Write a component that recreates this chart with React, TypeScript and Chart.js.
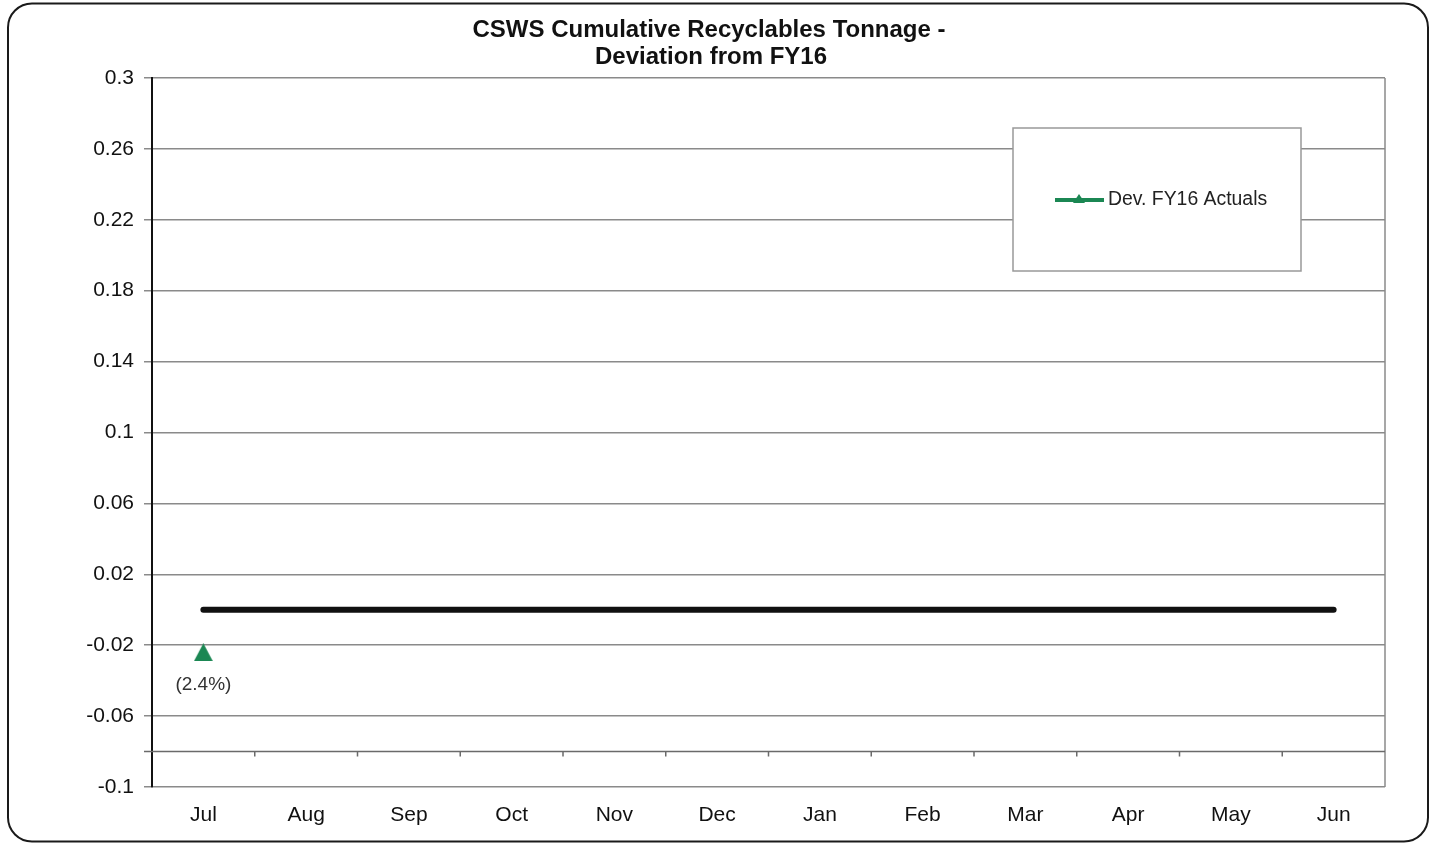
import React, { useEffect, useRef } from 'react';
import { Chart, registerables } from 'chart.js';

Chart.register(...registerables);

const months = ['Jul', 'Aug', 'Sep', 'Oct', 'Nov', 'Dec', 'Jan', 'Feb', 'Mar', 'Apr', 'May', 'Jun'];
const deviationFY16: (number | null)[] = [-0.024, null, null, null, null, null, null, null, null, null, null, null];
const zeroLine = [0, 0, 0, 0, 0, 0, 0, 0, 0, 0, 0, 0];
const pointLabels = ['(2.4%)', '', '', '', '', '', '', '', '', '', '', ''];
const yTickValues = [-0.1, -0.06, -0.02, 0.02, 0.06, 0.1, 0.14, 0.18, 0.22, 0.26, 0.3];
const yTickLabels = ['-0.1', '-0.06', '-0.02', '0.02', '0.06', '0.1', '0.14', '0.18', '0.22', '0.26', '0.3'];
const categoryAxisValue = -0.08;
const titleLines = ['CSWS Cumulative Recyclables Tonnage -', 'Deviation from FY16'];
const legendLabel = 'Dev. FY16 Actuals';

const GREEN = '#1b8753';
const FONT = '"Liberation Sans", Arial, sans-serif';

function makeTriangle(w: number, h: number, color: string) {
  const c = document.createElement('canvas');
  c.width = w;
  c.height = h;
  const g = c.getContext('2d')!;
  g.fillStyle = color;
  g.beginPath();
  g.moveTo(w / 2, 0);
  g.lineTo(w, h);
  g.lineTo(0, h);
  g.closePath();
  g.fill();
  return c;
}

const decorPlugin = {
  id: 'decor',
  beforeDraw(chart: any) {
    const { ctx, width, height } = chart;
    ctx.save();
    ctx.fillStyle = '#ffffff';
    ctx.fillRect(0, 0, width, height);
    ctx.strokeStyle = '#1a1a1a';
    ctx.lineWidth = 2;
    ctx.beginPath();
    ctx.roundRect(8, 3.5, 1420, 838, 24);
    ctx.stroke();
    ctx.restore();
  },
  afterDraw(chart: any) {
    const { ctx, chartArea, scales } = chart;
    const x = scales.x;
    const y = scales.y;
    ctx.save();
    // title
    ctx.fillStyle = '#111';
    ctx.font = `bold 24px ${FONT}`;
    ctx.textAlign = 'center';
    ctx.textBaseline = 'middle';
    ctx.fillText(titleLines[0], 709, 30);
    ctx.fillText(titleLines[1], 711, 57);

    // right border of plot
    ctx.strokeStyle = '#8a8a8a';
    ctx.lineWidth = 1.5;
    ctx.beginPath();
    ctx.moveTo(chartArea.right, chartArea.top);
    ctx.lineTo(chartArea.right, chartArea.bottom);
    ctx.stroke();

    // category axis crossing line with tick marks between categories
    const cy = y.getPixelForValue(categoryAxisValue);
    ctx.strokeStyle = '#6a6a6a';
    ctx.lineWidth = 1.5;
    ctx.beginPath();
    ctx.moveTo(chartArea.left - 8, cy);
    ctx.lineTo(chartArea.right, cy);
    for (let i = 1; i < months.length; i++) {
      const bx = (x.getPixelForValue(i - 1) + x.getPixelForValue(i)) / 2;
      ctx.moveTo(bx, cy);
      ctx.lineTo(bx, cy + 5);
    }
    ctx.stroke();

    // point labels
    const meta = chart.getDatasetMeta(1);
    ctx.fillStyle = '#333';
    ctx.font = `19px ${FONT}`;
    ctx.textAlign = 'center';
    ctx.textBaseline = 'middle';
    meta.data.forEach((el: any, i: number) => {
      if (deviationFY16[i] === null || !pointLabels[i]) return;
      ctx.fillText(pointLabels[i], el.x, el.y + 32);
    });

    // legend box
    ctx.fillStyle = '#ffffff';
    ctx.fillRect(1013, 128, 288, 143);
    ctx.strokeStyle = '#999';
    ctx.lineWidth = 1.5;
    ctx.strokeRect(1013, 128, 288, 143);
    ctx.strokeStyle = GREEN;
    ctx.lineWidth = 4;
    ctx.beginPath();
    ctx.moveTo(1055, 200);
    ctx.lineTo(1104, 200);
    ctx.stroke();
    ctx.fillStyle = GREEN;
    ctx.beginPath();
    ctx.moveTo(1079, 194);
    ctx.lineTo(1085, 203);
    ctx.lineTo(1073, 203);
    ctx.closePath();
    ctx.fill();
    ctx.fillStyle = '#222';
    ctx.font = `19.4px ${FONT}`;
    ctx.textAlign = 'left';
    ctx.fillText(legendLabel, 1108, 200);
    ctx.restore();
  },
};

export default function App() {
  const canvasRef = useRef<HTMLCanvasElement | null>(null);

  useEffect(() => {
    document.body.style.margin = '0';
    const canvas = canvasRef.current;
    if (!canvas) return;
    const tri = makeTriangle(19, 18, GREEN);
    const chart = new Chart(canvas, {
      type: 'line',
      data: {
        labels: months,
        datasets: [
          {
            label: 'Zero',
            data: zeroLine,
            borderColor: '#111',
            borderWidth: 6,
            borderCapStyle: 'round',
            pointRadius: 0,
            pointHoverRadius: 0,
            fill: false,
          },
          {
            label: legendLabel,
            data: deviationFY16,
            borderColor: GREEN,
            backgroundColor: GREEN,
            borderWidth: 3,
            pointStyle: tri,
            pointRadius: 10,
            spanGaps: false,
          },
        ],
      },
      options: {
        responsive: false,
        animation: false,
        devicePixelRatio: 1,
        layout: { padding: { top: 78, right: 46, bottom: 0, left: 0 } },
        plugins: {
          legend: { display: false },
          title: { display: false },
          tooltip: { enabled: false },
        },
        scales: {
          x: {
            type: 'category',
            offset: true,
            grid: { display: false },
            border: { display: false },
            ticks: {
              color: '#111',
              font: { family: FONT, size: 21 },
              padding: 8,
              maxRotation: 0,
              autoSkip: false,
            },
            afterFit(scale: any) {
              scale.height = 57;
            },
          },
          y: {
            type: 'linear',
            min: -0.1,
            max: 0.3,
            afterBuildTicks(scale: any) {
              scale.ticks = yTickValues.map((v) => ({ value: v }));
            },
            grid: {
              color: '#8a8a8a',
              lineWidth: 1.5,
              tickLength: 8,
              drawTicks: true,
            },
            border: { display: true, color: '#111', width: 2 },
            ticks: {
              color: '#111',
              font: { family: FONT, size: 21 },
              padding: 10,
              callback: (value: any) => {
                const idx = yTickValues.findIndex((v) => Math.abs(v - Number(value)) < 1e-9);
                return idx >= 0 ? yTickLabels[idx] : '';
              },
            },
            afterFit(scale: any) {
              scale.width = 152;
            },
          },
        },
      },
      plugins: [decorPlugin],
    });
    return () => chart.destroy();
  }, []);

  return (
    <div style={{ width: 1431, height: 844 }}>
      <canvas ref={canvasRef} width={1431} height={844} style={{ display: 'block' }} />
    </div>
  );
}
